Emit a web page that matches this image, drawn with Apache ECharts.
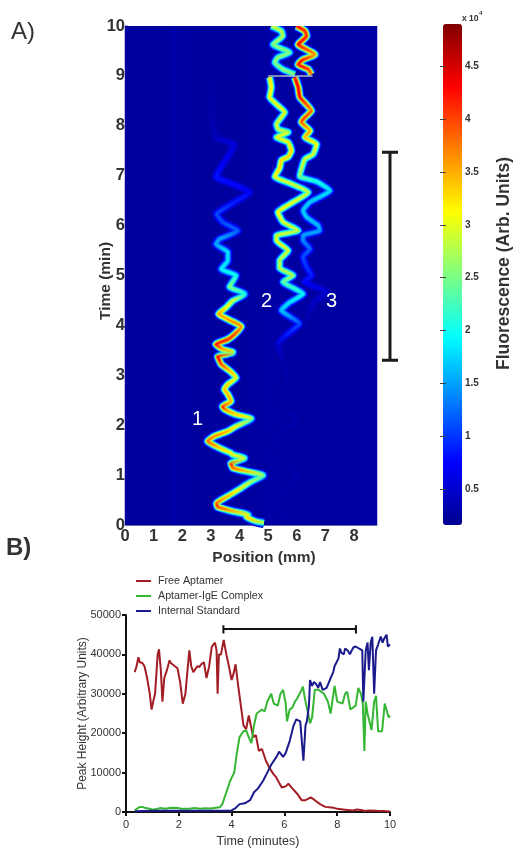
<!DOCTYPE html>
<html>
<head>
<meta charset="utf-8">
<style>html,body{margin:0;padding:0;background:#fff}#chart{width:516px;height:855px}</style>
<script src="https://cdn.jsdelivr.net/npm/echarts@6/dist/echarts.min.js"></script>
</head>
<body>
<div id="chart"></div>
<script>
// A) detector background, one value per 0.2 mm bin (x10^4)
var posBins = ['0','0.2','0.4','0.6','0.8','1','1.2','1.4','1.6','1.8','2','2.2','2.4','2.6','2.8','3','3.2','3.4','3.6','3.8','4','4.2','4.4','4.6','4.8','5','5.2','5.4','5.6','5.8','6','6.2','6.4','6.6','6.8','7','7.2','7.4','7.6','7.8','8','8.2','8.4','8.6'];
var background = [0.24,0.23,0.23,0.23,0.23,0.23,0.23,0.24,0.3,0.26,0.25,0.25,0.24,0.24,0.24,0.24,0.24,0.24,0.24,0.24,0.24,0.25,0.25,0.25,0.26,0.28,0.27,0.26,0.26,0.26,0.26,0.26,0.26,0.25,0.25,0.25,0.25,0.25,0.25,0.26,0.27,0.27,0.3,0.28];

// ridges: [time min, position mm, height x10^4]
var ridge1 = [[0.04,4.85,2.4],[0.07,4.58,2.6],[0.17,4.23,3.3],[0.2,4.3,3.3],[0.27,3.77,2.9],[0.36,3.24,3.7],[0.44,3.2,4.1],[0.54,3.47,3.6],[0.7,3.94,3.2],[0.87,4.4,2.8],[0.99,4.82,2.4],[1.07,4.23,2.8],[1.14,3.77,3.6],[1.24,3.7,4.1],[1.34,4.17,2.8],[1.41,3.75,2.9],[1.44,3.7,3.0],[1.54,3.3,3.2],[1.68,2.89,3.8],[1.78,3.12,3.7],[1.88,3.59,3.5],[1.98,3.88,3.2],[2.13,4.41,2.5],[2.21,3.88,3.2],[2.32,3.47,3.6],[2.38,3.41,4.1],[2.48,3.7,3.5],[2.62,3.59,3.5],[2.72,3.47,3.4],[2.82,3.59,3.3],[2.95,3.88,3.0],[3.09,3.65,3.4],[3.22,3.36,3.9],[3.38,3.24,4.3],[3.46,3.77,2.7],[3.52,3.4,3.5],[3.62,3.18,4.2],[3.72,3.59,4.1],[3.82,3.82,4.0],[3.98,4.06,3.6],[4.06,3.82,3.7],[4.16,3.47,3.5],[4.23,3.27,3.6],[4.36,3.53,3.1],[4.5,3.77,2.9],[4.63,4.18,2.0],[4.77,3.65,2.6],[5,3.88,2.0],[5.13,3.36,1.9],[5.3,3.59,1.8],[5.47,3.59,1.8],[5.63,3.18,1.5],[5.73,3.3,1.5],[5.9,3.94,1.2],[6.07,3.41,1.1],[6.23,3.2,1.1],[6.43,3.7,0.9],[6.67,4.35,0.7],[6.83,3.77,0.8],[6.98,3.18,0.85],[7.18,3.36,0.7],[7.38,3.59,0.65],[7.62,3.82,0.55],[7.78,3.18,0.38],[8.23,3.05,0.3],[8.9,3.05,0.27]];
var ridge2Low = [[0.12,5.8,0.27],[0.2,5.6,0.28],[0.4,5.3,0.31],[0.7,5.6,0.3],[1,6,0.31],[1.4,5.5,0.28],[1.7,5.2,0.29],[1.9,5.6,0.29],[2.1,6,0.31],[2.4,5.5,0.28],[2.7,5.5,0.28],[3,5.7,0.29],[3.3,5.5,0.3],[3.62,5.34,0.5],[3.86,5.75,0.9],[4.03,6.1,1.1],[4.3,5.46,1.7],[4.46,5.75,1.8],[4.63,6.22,1.9],[4.87,5.52,2.4],[5,5.87,2.7],[5.15,5.4,2.8],[5.3,5.4,2.8],[5.5,5.7,2.9],[5.7,5.29,3.0],[5.8,5.29,2.9],[5.9,6.05,2.8],[6.07,5.52,3.0],[6.27,5.34,3.1],[6.43,5.75,3.0],[6.67,6.4,2.8],[6.85,5.75,2.9],[6.98,5.23,3.1],[7.15,5.4,3.3],[7.31,5.46,3.3],[7.38,5.7,3.3],[7.5,5.81,3.3],[7.67,5.7,3.0],[7.77,5.29,3.0],[7.87,5.7,2.8],[7.93,5.35,2.9],[8.03,5.29,2.9],[8.27,5.58,3.0],[8.43,5.29,3.0],[8.57,5.05,3.1],[8.77,5.11,3.2],[8.97,5.05,3.2]];
var ridge2High = [[9.03,5.93,2.4],[9.13,5.52,2.6],[9.27,5.23,2.5],[9.37,5.34,2.6],[9.47,5.75,2.5],[9.63,5.17,2.6],[9.8,5.51,2.8],[9.9,5.46,2.8],[10,5.11,2.9]];
var ridge3Low = [[0.12,6.65,0.26],[0.4,6.5,0.27],[0.7,6.3,0.28],[1,7,0.28],[1.5,6.5,0.26],[2,7,0.28],[3,6.4,0.26],[3.8,6.3,0.27],[4.2,6.4,0.32],[4.46,6.6,0.45],[4.66,7.04,0.5],[4.87,6.28,0.75],[5,6.51,0.9],[5.17,6.34,1.0],[5.37,6.22,1.1],[5.53,6.46,1.2],[5.7,6.22,1.4],[5.8,6.22,1.5],[5.9,6.8,1.5],[6,6.75,1.6],[6.17,6.34,1.7],[6.3,6.22,1.7],[6.47,6.46,1.7],[6.7,7.16,1.8],[6.88,6.69,2.1],[6.98,6.1,2.6],[7.13,6.16,2.8],[7.33,6.28,2.9],[7.43,6.57,2.9],[7.63,6.69,3.1],[7.77,6.28,3.5],[7.9,6.46,3.5],[8.07,6.16,4.0],[8.17,6.28,3.9],[8.3,6.51,3.8],[8.57,6.11,4.3],[8.77,6.05,4.3],[8.97,5.93,4.2]];
var ridge3High = [[9.03,6.51,3.6],[9.13,6.4,3.9],[9.23,6.05,4.2],[9.33,6.22,4.2],[9.43,6.63,3.6],[9.63,6.05,4.3],[9.8,6.34,4.1],[9.9,6.28,4.1],[10,5.99,4.3]];
var breakLine = [[5.0,9],[6.55,9]];
var layerWidths = [10,8,6,4,2];
var layerShare = [0.14,0.35,0.65,0.9,1];

// B) peak height traces: [time min, height]
var freeAptamer = [[0.33,35500],[0.4,37000],[0.47,39300],[0.52,38000],[0.55,37500],[0.62,37800],[0.7,37000],[0.75,36800],[0.8,34000],[0.9,30000],[0.97,26000],[1.03,28000],[1.1,30000],[1.2,40000],[1.25,41300],[1.32,36000],[1.38,28000],[1.45,34000],[1.5,34500],[1.55,36000],[1.65,38500],[1.7,37800],[1.75,38000],[1.85,37000],[1.9,37300],[1.95,36500],[2.05,33000],[2.15,27500],[2.25,30000],[2.33,36000],[2.4,41000],[2.47,37000],[2.55,35500],[2.62,36200],[2.7,37000],[2.78,36800],[2.85,37500],[2.95,38000],[3.05,34000],[3.15,37000],[3.25,42000],[3.32,42300],[3.37,43000],[3.43,41000],[3.47,30000],[3.52,40000],[3.6,40000],[3.7,43700],[3.8,40000],[3.9,37000],[4,33500],[4.07,35000],[4.15,37500],[4.25,32000],[4.35,27000],[4.45,22000],[4.55,21000],[4.65,24500],[4.72,24500],[4.82,19000],[4.92,19500],[5.03,15500],[5.15,16000],[5.3,13000],[5.45,11000],[5.6,9500],[5.68,8900],[5.75,8500],[5.9,6200],[6.05,6500],[6.15,7200],[6.3,6000],[6.5,4500],[6.65,3000],[6.8,3000],[7,3700],[7.15,3000],[7.35,2000],[7.55,1300],[7.7,1200],[7.85,1100],[8,800],[8.15,700],[8.3,600],[8.6,400],[8.75,650],[8.9,500],[9.05,250],[9.2,400],[9.5,300],[9.75,250],[10,100]];
var complexIgE = [[0.33,400],[0.5,1200],[0.6,1300],[0.7,1100],[0.85,900],[1,600],[1.2,800],[1.3,1000],[1.5,800],[1.65,1000],[1.8,1100],[1.95,1000],[2.1,800],[2.4,800],[2.6,1000],[2.8,800],[3,950],[3.2,900],[3.55,1200],[3.65,2000],[3.8,5000],[3.95,8000],[4.1,10000],[4.2,15000],[4.3,19000],[4.45,20500],[4.55,20700],[4.65,19000],[4.75,17500],[4.85,22000],[4.95,25000],[5.05,25500],[5.15,26000],[5.25,25500],[5.35,28000],[5.5,30000],[5.6,27500],[5.75,27000],[5.85,30000],[5.95,31000],[6.05,27500],[6.1,23000],[6.2,26000],[6.3,26500],[6.4,28000],[6.5,29000],[6.65,31000],[6.7,31800],[6.8,28000],[6.9,25000],[6.97,22500],[7.05,24000],[7.15,31000],[7.3,31000],[7.5,30000],[7.65,28000],[7.75,25000],[7.9,32000],[8,28000],[8.2,27500],[8.3,30000],[8.38,30500],[8.5,26000],[8.7,27000],[8.8,31500],[8.9,30000],[8.97,27500],[9.03,15500],[9.08,28000],[9.15,25000],[9.3,20800],[9.4,28000],[9.47,29500],[9.55,20500],[9.7,20500],[9.8,27500],[9.85,28000],[9.95,24000],[10,24500]];
var internalStd = [[0.33,200],[1,300],[2,300],[3,300],[4,400],[4.15,1000],[4.3,2000],[4.5,2200],[4.7,3000],[4.85,5000],[5,6000],[5.2,8000],[5.35,10000],[5.5,12000],[5.7,14000],[5.8,15300],[5.95,14000],[6.05,15000],[6.2,18000],[6.35,22000],[6.45,23500],[6.6,23000],[6.72,13000],[6.8,22000],[6.85,23000],[6.93,27000],[6.97,33500],[7.05,32000],[7.12,33000],[7.2,32500],[7.28,31500],[7.35,33000],[7.45,31000],[7.6,31500],[7.75,34000],[7.85,35500],[7.9,37000],[8.05,39000],[8.1,41500],[8.15,40500],[8.25,40000],[8.3,41500],[8.4,41000],[8.48,40000],[8.55,41000],[8.62,41800],[8.7,42000],[8.82,41500],[8.95,41000],[8.99,28000],[9.03,28000],[9.08,41000],[9.15,43000],[9.2,36000],[9.27,43000],[9.33,44500],[9.4,30000],[9.47,41000],[9.55,42500],[9.65,44500],[9.72,43000],[9.78,44000],[9.87,45000],[9.92,42000],[10,42500]];
var spanB = [[3.69,45300],[3.69,47400],[3.69,46450],[8.71,46450],[8.71,45300],[8.71,47400]];
var spanA = [[0,3.3],[1,3.3],[0.5,3.3],[0.5,7.47],[0,7.47],[1,7.47]];

var colorTicks = [0.5,1,1.5,2,2.5,3,3.5,4,4.5];
var jetColors = ['#00008f','#0000ff','#0080ff','#00ffff','#80ff80','#ffff00','#ff8000','#ff0000','#800000'];
var vMin = 0.16, vMax = 4.9;

function jet(v) {
    var f = Math.min(Math.max((v - vMin) / (vMax - vMin), 0), 1) * (jetColors.length - 1);
    var i = Math.min(Math.floor(f), jetColors.length - 2);
    var a = echarts.color.parse(jetColors[i]), b = echarts.color.parse(jetColors[i + 1]);
    var t = f - i;
    return 'rgb(' + [0, 1, 2].map(function (k) { return Math.round(a[k] + (b[k] - a[k]) * t); }).join(',') + ')';
}

// one ridge is drawn as nested lines, narrower = closer to the peak height
function ridgeSeries(points) {
    var t0 = points[0][0], t1 = points[points.length - 1][0];
    return layerWidths.map(function (w, n) {
        var stops = points.slice().reverse().map(function (p) {
            return { offset: (t1 - p[0]) / (t1 - t0), color: jet(0.24 + (p[2] - 0.24) * layerShare[n]) };
        });
        return {
            type: 'line', xAxisIndex: 1, yAxisIndex: 1, silent: true, symbol: 'none', smooth: 0.15,
            data: points.map(function (p) { return [p[1], p[0]]; }),
            lineStyle: { width: w, join: 'round', color: new echarts.graphic.LinearGradient(0, 0, 0, 1, stops) },
            z: 3 + n
        };
    });
}

var font = '"Liberation Sans", Arial, sans-serif';
var dark = '#333';
var series = [{
    type: 'heatmap', xAxisIndex: 0, yAxisIndex: 0, silent: true,
    data: background.map(function (v, i) { return [i, 0, v]; }),
    z: 1
}];
[ridge1, ridge2Low, ridge2High, ridge3Low, ridge3High].forEach(function (r) {
    series = series.concat(ridgeSeries(r));
});
series.push({
    type: 'line', xAxisIndex: 1, yAxisIndex: 1, silent: true, symbol: 'none', data: breakLine,
    lineStyle: { width: 1.5, color: '#aab8c4' }, z: 9
}, {
    type: 'line', xAxisIndex: 3, yAxisIndex: 4, silent: true, symbol: 'none', data: spanA,
    lineStyle: { width: 3, color: '#1e1a1a' }, clip: false
}, {
    name: 'Free Aptamer', type: 'line', xAxisIndex: 4, yAxisIndex: 5, symbol: 'none', data: freeAptamer,
    lineStyle: { width: 2, color: '#a31d25' }, itemStyle: { color: '#a31d25' }
}, {
    name: 'Aptamer-IgE Complex', type: 'line', xAxisIndex: 4, yAxisIndex: 5, symbol: 'none', data: complexIgE,
    lineStyle: { width: 2, color: '#35b734' }, itemStyle: { color: '#35b734' }
}, {
    name: 'Internal Standard', type: 'line', xAxisIndex: 4, yAxisIndex: 5, symbol: 'none', data: internalStd,
    lineStyle: { width: 2, color: '#1a1a8c' }, itemStyle: { color: '#1a1a8c' }
}, {
    type: 'line', xAxisIndex: 4, yAxisIndex: 5, symbol: 'none', silent: true, data: spanB, clip: false,
    lineStyle: { width: 2, color: '#111' }
});

var hiddenValue = { type: 'value', show: false };
var boldLabel = { fontFamily: font, fontWeight: 'bold', fontSize: 16.5, color: dark };
var option = {
    animation: false,
    backgroundColor: '#fff',
    textStyle: { fontFamily: font },
    grid: [
        { left: 125, top: 26, width: 252, height: 499, show: true, backgroundColor: '#00009e', borderWidth: 0 },
        { left: 125, top: 26, width: 252, height: 499 },
        { left: 443, top: 24, width: 19, height: 501 },
        { left: 382, top: 26, width: 16, height: 499 },
        { left: 126, top: 615, width: 264, height: 197 }
    ],
    xAxis: [
        { type: 'category', show: false, gridIndex: 0, data: posBins },
        {
            type: 'value', gridIndex: 1, min: 0, max: 8.8,
            name: 'Position (mm)', nameLocation: 'middle', nameGap: 25, nameMoveOverlap: false,
            nameTextStyle: { fontFamily: font, fontWeight: 'bold', fontSize: 15.5, color: dark, padding: [0, 0, 0, 26] },
            axisLine: { show: true, onZero: false, lineStyle: { color: '#8d93b5', width: 1 } },
            axisTick: { show: false }, splitLine: { show: false },
            axisLabel: Object.assign({ margin: 3, customValues: [0,1,2,3,4,5,6,7,8] }, boldLabel)
        },
        Object.assign({ gridIndex: 2, min: 0, max: 1 }, hiddenValue),
        Object.assign({ gridIndex: 3, min: 0, max: 1 }, hiddenValue),
        {
            type: 'value', gridIndex: 4, min: 0, max: 10, interval: 2,
            name: 'Time (minutes)', nameLocation: 'middle', nameGap: 23,
            nameTextStyle: { fontSize: 12.5, color: dark },
            axisLine: { onZero: false, lineStyle: { color: '#111', width: 2 } },
            axisTick: { length: 4, lineStyle: { color: '#111', width: 2 } },
            splitLine: { show: false },
            axisLabel: { fontSize: 11, color: dark, margin: 7 }
        }
    ],
    yAxis: [
        { type: 'category', show: false, gridIndex: 0, data: ['row'] },
        {
            type: 'value', gridIndex: 1, min: 0, max: 10, interval: 1,
            name: 'Time (min)', nameLocation: 'middle', nameGap: 11, nameMoveOverlap: false,
            nameTextStyle: { fontFamily: font, fontWeight: 'bold', fontSize: 15.5, color: dark, padding: [0, 11, 0, 0] },
            axisLine: { show: true, onZero: false, lineStyle: { color: '#8d93b5', width: 1 } },
            axisTick: { show: false }, splitLine: { show: false },
            axisLabel: Object.assign({ margin: 0 }, boldLabel)
        },
        {
            type: 'value', gridIndex: 2, position: 'right', min: vMin, max: vMax, z: 10,
            name: 'Fluorescence (Arb. Units)', nameLocation: 'middle', nameRotate: 90, nameGap: 33,
            nameTextStyle: { fontFamily: font, fontWeight: 'bold', fontSize: 17.5, color: dark, padding: [0, 0, 0, 22] },
            axisLine: { show: false }, splitLine: { show: false },
            axisTick: { inside: true, length: 3, customValues: colorTicks, lineStyle: { color: '#444' } },
            axisLabel: { customValues: colorTicks, margin: 3, fontFamily: font, fontWeight: 'bold', fontSize: 10, color: dark }
        },
        {
            type: 'value', gridIndex: 2, position: 'left', min: vMin, max: vMax, z: 10,
            axisLine: { show: false }, splitLine: { show: false }, axisLabel: { show: false },
            axisTick: { inside: true, length: 3, customValues: colorTicks, lineStyle: { color: '#444' } }
        },
        Object.assign({ gridIndex: 3, min: 0, max: 10 }, hiddenValue),
        {
            type: 'value', gridIndex: 4, min: 0, max: 50000, interval: 10000,
            name: 'Peak Height (Arbitrary Units)', nameLocation: 'middle', nameGap: 37, nameMoveOverlap: false,
            nameTextStyle: { fontSize: 12, color: dark },
            axisLine: { show: true, onZero: false, lineStyle: { color: '#111', width: 2 } },
            axisTick: { show: true, length: 4, lineStyle: { color: '#111', width: 2 } },
            splitLine: { show: false },
            axisLabel: { fontSize: 11, color: dark, margin: 5, formatter: function (v) { return String(v); } }
        }
    ],
    visualMap: {
        type: 'continuous', seriesIndex: 0, dimension: 2, min: vMin, max: vMax,
        left: 443, top: 24, padding: 0, itemWidth: 19, itemHeight: 501,
        showLabel: false, calculable: false, hoverLink: false, realtime: false,
        inRange: { color: jetColors }
    },
    legend: {
        left: 136, top: 575, orient: 'vertical', padding: 0, itemGap: 3,
        icon: 'rect', itemWidth: 15, itemHeight: 2,
        data: ['Free Aptamer', 'Aptamer-IgE Complex', 'Internal Standard'],
        textStyle: { fontSize: 10.7, lineHeight: 12, color: dark, padding: [0, 0, 0, 2] },
        selectedMode: false
    },
    series: series,
    graphic: [
        // ridge ends poke past the top edge of the plot
        { type: 'rect', z: 30, shape: { x: 128, y: 8, width: 252, height: 18 }, style: { fill: '#fff' } },
        { type: 'text', left: 11, top: 20, style: { text: 'A)', font: '24px ' + font, fill: dark } },
        { type: 'text', left: 6, top: 536, style: { text: 'B)', font: 'bold 24px ' + font, fill: dark } },
        { type: 'text', left: 192, top: 409, z: 20, style: { text: '1', font: '20px ' + font, fill: '#fff' } },
        { type: 'text', left: 261, top: 291, z: 20, style: { text: '2', font: '20px ' + font, fill: '#fff' } },
        { type: 'text', left: 326, top: 291, z: 20, style: { text: '3', font: '20px ' + font, fill: '#fff' } },
        { type: 'text', left: 462, top: 14, style: { text: 'x 10', font: 'bold 8.5px ' + font, fill: dark } },
        { type: 'text', left: 479, top: 10, style: { text: '4', font: 'bold 6px ' + font, fill: dark } }
    ]
};

var chart = echarts.init(document.getElementById('chart'), null, { renderer: 'canvas' });
chart.setOption(option);
</script>
</body>
</html>
